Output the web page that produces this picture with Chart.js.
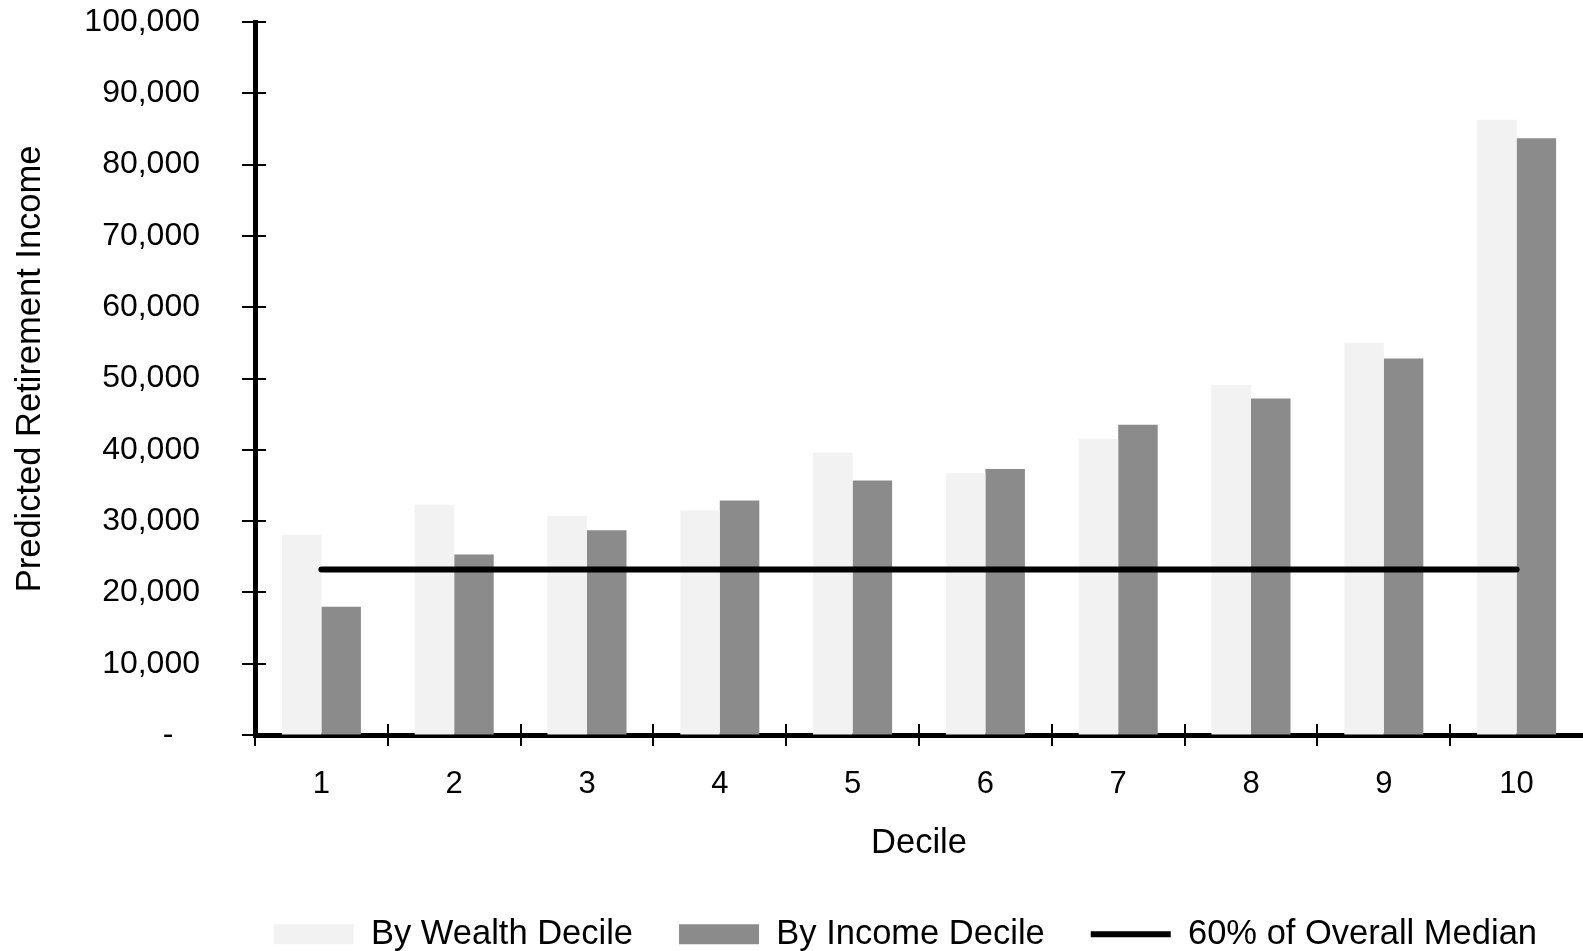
<!DOCTYPE html>
<html>
<head>
<meta charset="utf-8">
<title>Predicted Retirement Income by Decile</title>
<script src="https://cdn.jsdelivr.net/npm/chart.js@4"></script>
<style>
  html, body { margin: 0; padding: 0; background: #ffffff; }
  #wrap { width: 1583px; height: 951px; }
</style>
</head>
<body>
<div id="wrap"><canvas id="chart"></canvas></div>
<script>
// Deciles along the x axis
const deciles = ['1', '2', '3', '4', '5', '6', '7', '8', '9', '10'];

// Predicted retirement income, grouped by wealth decile and by income decile
const wealthDecile = [28100, 32300, 30700, 31500, 39600, 36700, 41500, 49100, 55000, 86300];
const incomeDecile = [18000, 25300, 28700, 32900, 35700, 37300, 43500, 47200, 52800, 83700];

// Reference level: 60% of the overall median
const sixtyPctMedian = [23200, 23200, 23200, 23200, 23200, 23200, 23200, 23200, 23200, 23200];

// Value axis range and step
const yMin = 0;
const yMax = 100000;
const yStep = 10000;

const FONT = "'Liberation Sans', Arial, Helvetica, sans-serif";

// Short tick marks that cross both axes
const crossTicks = {
  id: 'crossTicks',
  afterDraw(chart) {
    const { ctx, chartArea, scales } = chart;
    const x = scales.x, y = scales.y;
    ctx.save();
    ctx.strokeStyle = '#000000';
    ctx.lineWidth = 2;
    ctx.beginPath();
    y.ticks.forEach((t) => {
      const py = Math.round(y.getPixelForValue(t.value));
      ctx.moveTo(chartArea.left - 13, py);
      ctx.lineTo(chartArea.left + 11, py);
    });
    const n = deciles.length;
    for (let i = 0; i < n; i++) {
      const px = i === 0
        ? chartArea.left
        : Math.round((x.getPixelForValue(i - 1) + x.getPixelForValue(i)) / 2);
      ctx.moveTo(px, chartArea.bottom - 11);
      ctx.lineTo(px, chartArea.bottom + 11);
    }
    ctx.stroke();
    ctx.restore();
  }
};

new Chart(document.getElementById('chart'), {
  data: {
    labels: deciles,
    datasets: [
      {
        type: 'bar',
        label: 'By Wealth Decile',
        data: wealthDecile,
        backgroundColor: '#f2f2f2',
        borderWidth: 0,
        pointStyle: 'rect',
        categoryPercentage: 0.595,
        barPercentage: 1.0,
        order: 1
      },
      {
        type: 'bar',
        label: 'By Income Decile',
        data: incomeDecile,
        backgroundColor: '#8b8b8b',
        borderWidth: 0,
        pointStyle: 'rect',
        categoryPercentage: 0.595,
        barPercentage: 1.0,
        order: 1
      },
      {
        type: 'line',
        label: '60% of Overall Median',
        data: sixtyPctMedian,
        borderColor: '#000000',
        backgroundColor: '#000000',
        borderWidth: 6,
        borderCapStyle: 'round',
        pointRadius: 0,
        pointHoverRadius: 0,
        pointStyle: 'line',
        fill: false,
        order: 0
      }
    ]
  },
  options: {
    responsive: true,
    maintainAspectRatio: false,
    animation: false,
    events: [],
    layout: { padding: { top: 22, right: 0, bottom: 0, left: 0 } },
    plugins: {
      tooltip: { enabled: false },
      legend: {
        position: 'bottom',
        align: 'end',
        maxHeight: 80,
        labels: {
          usePointStyle: true,
          pointStyleWidth: 80,
          boxWidth: 80,
          boxHeight: 20,
          padding: 46,
          color: '#000000',
          font: { family: FONT, size: 34.5 },
          sort: (a, b) => a.datasetIndex - b.datasetIndex
        }
      }
    },
    scales: {
      x: {
        offset: true,
        grid: {
          display: true,
          drawOnChartArea: false,
          drawTicks: true,
          tickLength: 31,
          color: 'rgba(0,0,0,0)'
        },
        border: { display: true, color: '#000000', width: 5 },
        ticks: {
          color: '#000000',
          padding: 0,
          maxRotation: 0,
          font: { family: FONT, size: 31 }
        },
        title: {
          display: true,
          text: 'Decile',
          color: '#000000',
          font: { family: FONT, size: 34.5 },
          padding: { top: 0, bottom: 7 }
        },
        afterFit(scale) { scale.height = 136; }
      },
      y: {
        min: yMin,
        max: yMax,
        grid: {
          display: true,
          drawOnChartArea: false,
          drawTicks: true,
          tickLength: 55,
          color: 'rgba(0,0,0,0)'
        },
        border: { display: true, color: '#000000', width: 5 },
        ticks: {
          stepSize: yStep,
          color: '#000000',
          padding: 0,
          font: { family: FONT, size: 32 },
          callback: (v) => (v === 0 ? '-   ' : Number(v).toLocaleString('en-US'))
        },
        title: {
          display: true,
          text: '  Predicted Retirement Income',
          color: '#000000',
          font: { family: FONT, size: 34.5 },
          padding: { top: 10, bottom: 0 }
        },
        afterFit(scale) { scale.width = 255; }
      }
    }
  },
  plugins: [crossTicks]
});
</script>
</body>
</html>
